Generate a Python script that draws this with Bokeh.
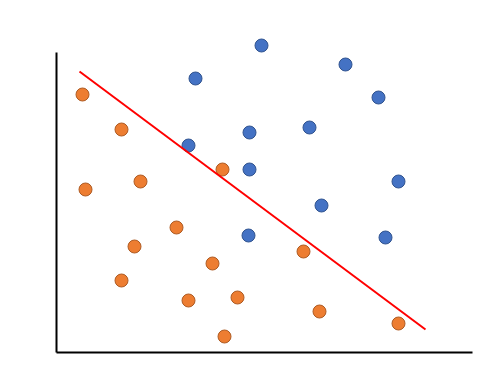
from bokeh.plotting import figure
from bokeh.models import Range1d
from bokeh.embed import file_html
from bokeh.resources import INLINE

blue_x = [205, 139, 289, 322, 193, 253, 132, 193, 342, 265, 192, 329]
blue_y = [307, 274, 288, 255, 220, 225, 207, 183, 171, 147, 117, 115]
orange_x = [26, 65, 166, 84, 29, 120, 78, 247, 156, 65, 132, 181, 263, 342, 168]
orange_y = [258, 223, 183, 171, 163, 125, 106, 101, 89, 72, 52, 55, 41, 29, 16]
line_x = [23, 369]
line_y = [281, 23]

p = figure(width=490, height=389, output_backend="svg", toolbar_location=None,
           x_range=Range1d(0, 416), y_range=Range1d(0, 322),
           min_border_left=56, min_border_right=18, min_border_top=30, min_border_bottom=37)
p.outline_line_color = None
p.xgrid.visible = False
p.ygrid.visible = False
for ax in (p.xaxis, p.yaxis):
    ax.major_tick_line_color = None
    ax.minor_tick_line_color = None
    ax.major_label_text_font_size = "0pt"
    ax.major_label_text_color = None
    ax.axis_line_width = 2
    ax.axis_line_color = "black"
    ax.major_label_standoff = 0
    ax.major_tick_out = 0
    ax.major_tick_in = 0
p.yaxis.bounds = (0, 300)

p.scatter(blue_x, blue_y, size=13, fill_color="#4472C4", line_color="#2F528F", line_width=1)
p.scatter(orange_x, orange_y, size=13, fill_color="#ED7D31", line_color="#AE5A21", line_width=1)
p.line(line_x, line_y, line_color="#FF0000", line_width=2)

open("out.html", "w").write(file_html(p, INLINE))
